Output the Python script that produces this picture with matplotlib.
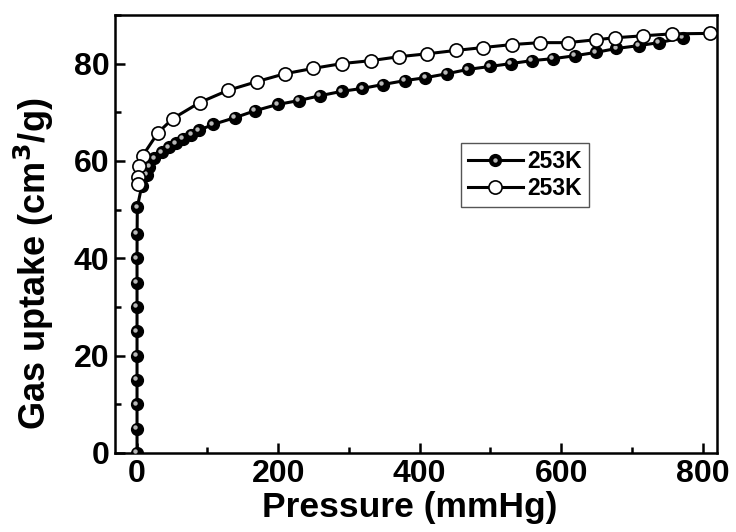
import matplotlib
matplotlib.use("Agg")
import matplotlib.pyplot as plt
from matplotlib.lines import Line2D
from matplotlib.ticker import MultipleLocator
from matplotlib.transforms import offset_copy

# filled series (adsorption)
p_ads = [0.4, 0.4, 0.4, 0.4, 0.4, 0.4, 0.4, 0.4, 0.4, 0.5, 0.8,
         7, 14, 18, 25, 35, 45, 55, 65, 77, 88, 108, 139, 167, 199, 229, 259, 290,
         319, 348, 379, 408, 438, 468, 499, 529, 558, 588, 619, 649, 678, 710, 738, 772]
q_ads = [0, 5, 10, 15, 20, 25, 30, 35, 40, 45, 50.5,
         54.8, 57.2, 58.8, 60.5, 61.8, 62.8, 63.6, 64.5, 65.4, 66.3, 67.5, 68.9, 70.3, 71.6, 72.4, 73.4, 74.3,
         74.9, 75.7, 76.5, 77.1, 77.9, 78.8, 79.4, 80.0, 80.6, 81.0, 81.6, 82.3, 83.1, 83.7, 84.3, 85.3]

# open series (desorption)
p_des = [810, 756, 715, 676, 649, 609, 570, 530, 490, 451, 410, 370, 331, 290, 249, 209,
         170, 129, 89, 51, 30, 8.5, 3, 2, 1.4]
q_des = [86.2, 86.1, 85.7, 85.3, 84.9, 84.3, 84.3, 83.9, 83.3, 82.7, 82.0, 81.4, 80.6, 80.0, 79.0, 77.9,
         76.3, 74.5, 72.0, 68.7, 65.8, 61.1, 58.9, 56.6, 55.2]

labels = ["253K", "253K"]

plt.rcParams.update({
    "font.family": ["Liberation Sans", "DejaVu Sans"],
    "font.weight": "bold",
    "axes.linewidth": 1.8,
})

fig = plt.figure(figsize=(7.36, 5.32), dpi=100)
ax = fig.add_axes([0.156, 0.1485, 0.818, 0.8235])

ax.plot(p_ads, q_ads, color="black", lw=2.2, marker="o", ms=8.5,
        mfc="black", mec="black", zorder=3)
hl = offset_copy(ax.transData, fig=fig, x=-1.2, y=1.2, units="points")
ax.plot(p_ads, q_ads, ls="none", marker="o", ms=3.2, mfc="#b8b8b8", mec="none",
        transform=hl, zorder=4)
ax.plot(p_des, q_des, color="black", lw=2.2, marker="o", ms=9.5,
        mfc="white", mec="black", mew=1.2, zorder=5)

ax.set_xlim(-31, 820)
ax.set_ylim(0, 90)
ax.xaxis.set_major_locator(MultipleLocator(200))
ax.xaxis.set_minor_locator(MultipleLocator(100))
ax.yaxis.set_major_locator(MultipleLocator(20))
ax.yaxis.set_minor_locator(MultipleLocator(10))
ax.tick_params(which="both", direction="in", top=False, right=False, width=1.8,
               labelsize=23)
ax.tick_params(which="major", length=7, pad=4)
ax.tick_params(which="minor", length=4.5)
for lab in ax.get_xticklabels() + ax.get_yticklabels():
    lab.set_fontweight("bold")

ax.set_xlabel("Pressure (mmHg)", fontsize=25.5, fontweight="bold")
ax.set_ylabel("Gas uptake (cm$^\\mathbf{3}$/g)", fontsize=26, fontweight="bold")
ax.xaxis.set_label_coords(0.49, -0.086)
ax.yaxis.set_label_coords(-0.097, 0.431)

h1 = (Line2D([], [], color="black", lw=2.2, marker="o", ms=8.5, mfc="black", mec="black"),
      Line2D([], [], ls="none", marker="o", ms=3.2, mfc="#b8b8b8", mec="none"))
h2 = Line2D([], [], color="black", lw=2.2, marker="o", ms=9.5, mfc="white", mec="black", mew=1.2)
leg = ax.legend([h1, h2], labels, loc="upper left", bbox_to_anchor=(0.575, 0.708),
                borderaxespad=0, fancybox=False, framealpha=1, edgecolor="#555555",
                prop={"size": 16.5, "weight": "bold"}, handlelength=2.4, handletextpad=0.2,
                labelspacing=0.2, borderpad=0.3)
leg.get_frame().set_linewidth(1.0)

fig.savefig("out.png", dpi=100)
